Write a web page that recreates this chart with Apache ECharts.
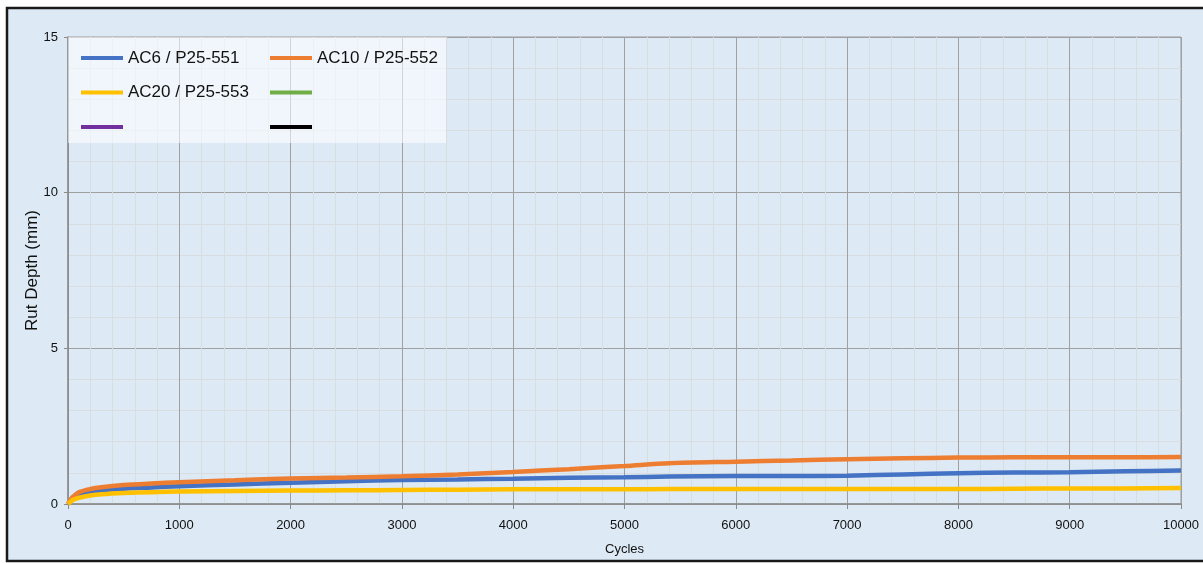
<!DOCTYPE html>
<html>
<head>
<meta charset="utf-8">
<script src="https://cdn.jsdelivr.net/npm/echarts@6/dist/echarts.min.js"></script>
<style>
html,body{margin:0;padding:0;background:#fff;}
#chart{width:1203px;height:563px;}
</style>
</head>
<body>
<div id="chart"></div>
<script>
const cycles = [0, 25, 50, 100, 200, 300, 500, 750, 1000, 1500, 2000, 2500, 3000, 3500, 4000, 4500, 5000, 5400, 6000, 6500, 7000, 7500, 8000, 8500, 9000, 9500, 10000];
const ac6 = [0, 0.12, 0.2, 0.3, 0.38, 0.43, 0.49, 0.53, 0.57, 0.63, 0.68, 0.73, 0.77, 0.79, 0.81, 0.84, 0.86, 0.88, 0.90, 0.90, 0.91, 0.95, 0.99, 1.01, 1.02, 1.05, 1.08];
const ac10 = [0, 0.15, 0.25, 0.38, 0.48, 0.54, 0.61, 0.66, 0.70, 0.76, 0.82, 0.85, 0.89, 0.95, 1.03, 1.12, 1.22, 1.31, 1.36, 1.40, 1.44, 1.47, 1.49, 1.50, 1.50, 1.50, 1.51];
const ac20 = [0, 0.08, 0.14, 0.2, 0.27, 0.31, 0.35, 0.38, 0.40, 0.42, 0.43, 0.44, 0.45, 0.46, 0.47, 0.47, 0.47, 0.48, 0.48, 0.48, 0.48, 0.48, 0.48, 0.49, 0.50, 0.50, 0.51];
const seriesNames = ['AC6 / P25-551', 'AC10 / P25-552', 'AC20 / P25-553', 'S4', 'S5', 'S6'];
const emptyNames = ['S4', 'S5', 'S6'];
const colors = ['#4472C4', '#ED7D31', '#FFC000', '#70AD47', '#7030A0', '#000000'];

const FONT = '"Liberation Sans", Arial, sans-serif';
const pair = (ys) => cycles.map((c, i) => [c, ys[i]]);
const dataSets = [pair(ac6), pair(ac10), pair(ac20), [], [], []];

const chart = echarts.init(document.getElementById('chart'));
const legendCommon = {
  orient: 'vertical',
  icon: 'rect',
  itemWidth: 42,
  itemHeight: 4,
  itemGap: 14.5,
  padding: 0,
  textStyle: {fontFamily: FONT, fontSize: 17, color: '#111', lineHeight: 20},
  formatter: (n) => emptyNames.includes(n) ? '\u00a0' : n,
  selectedMode: false
};
chart.setOption({
  backgroundColor: '#ffffff',
  animation: false,
  color: colors,
  graphic: [
    {type: 'rect', shape: {x: 7, y: 8, width: 1230, height: 553}, style: {fill: '#DDEAF5', stroke: '#1a1a1a', lineWidth: 2.5}, z: -10, silent: true},
    {type: 'rect', shape: {x: 68, y: 37, width: 378, height: 106}, style: {fill: 'rgba(255,255,255,0.55)'}, z: 1, silent: true}
  ],
  grid: {left: 68, top: 37, right: 22, bottom: 59, show: true, borderColor: '#9a9a9a', borderWidth: 1, backgroundColor: 'transparent', outerBoundsMode: 'none', containLabel: false},
  legend: [
    Object.assign({left: 81, top: 48, data: [seriesNames[0], seriesNames[2], seriesNames[4]]}, legendCommon),
    Object.assign({left: 270, top: 48, data: [seriesNames[1], seriesNames[3], seriesNames[5]]}, legendCommon)
  ],
  xAxis: {
    type: 'value', min: 0, max: 10000, interval: 1000,
    name: 'Cycles', nameLocation: 'middle', nameGap: 39, nameMoveOverlap: false,
    nameTextStyle: {fontFamily: FONT, fontSize: 13, color: '#111'},
    axisLine: {show: true, lineStyle: {color: '#8a8a8a', width: 1.5}},
    axisTick: {show: true, length: 5, lineStyle: {color: '#8a8a8a'}},
    axisLabel: {fontFamily: FONT, fontSize: 13, color: '#111', margin: 15, formatter: (v) => String(v)},
    splitLine: {show: true, lineStyle: {color: '#a0a0a0', width: 1}},
    minorTick: {show: false, splitNumber: 5},
    minorSplitLine: {show: true, lineStyle: {color: '#d8dde0', width: 1}}
  },
  yAxis: {
    type: 'value', min: 0, max: 15, interval: 5,
    name: 'Rut Depth (mm)', nameLocation: 'middle', nameGap: 36, nameRotate: 90, nameMoveOverlap: false,
    nameTextStyle: {fontFamily: FONT, fontSize: 17, color: '#111', verticalAlign: 'middle'},
    axisLine: {show: true, lineStyle: {color: '#8a8a8a', width: 1.5}},
    axisTick: {show: true, length: 4, lineStyle: {color: '#8a8a8a'}},
    axisLabel: {fontFamily: FONT, fontSize: 13, color: '#111', margin: 10, formatter: (v) => String(v)},
    splitLine: {show: true, lineStyle: {color: '#a0a0a0', width: 1}},
    minorTick: {show: false, splitNumber: 5},
    minorSplitLine: {show: true, lineStyle: {color: '#d8dde0', width: 1}}
  },
  series: seriesNames.map((n, i) => ({
    name: n, type: 'line', data: dataSets[i], showSymbol: false, smooth: 0.3,
    lineStyle: {width: 4.5, color: colors[i]}, itemStyle: {color: colors[i]}, z: 3
  }))
});
</script>
</body>
</html>
